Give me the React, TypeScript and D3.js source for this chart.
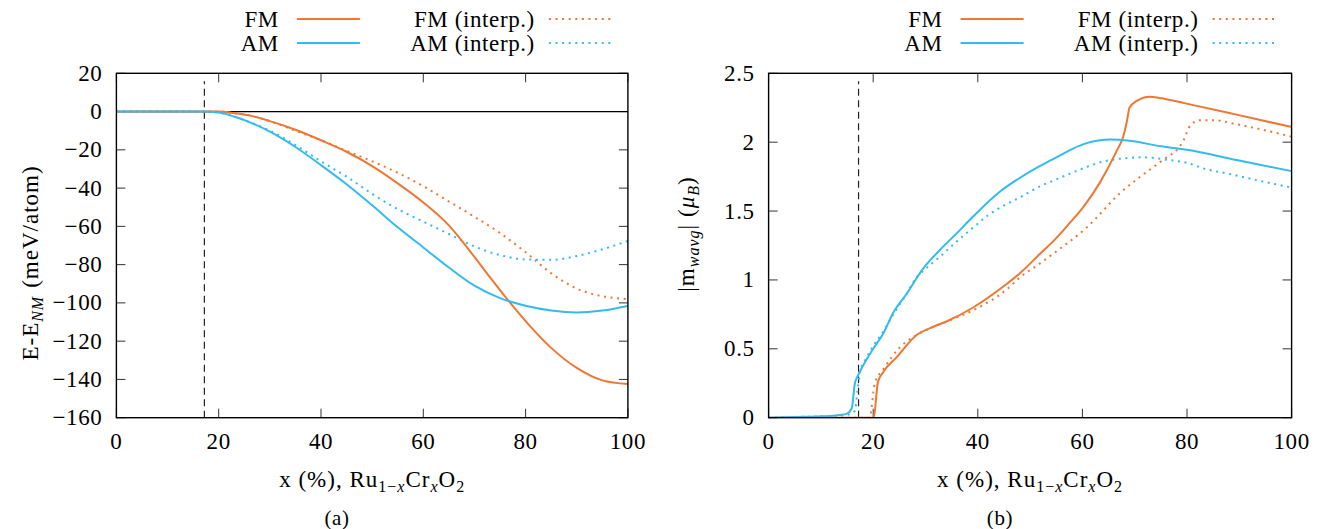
import React from "react";
import * as d3 from "d3";

const W = 1320;
const H = 529;
const ORANGE = "#ee7733";
const BLUE = "#33bbee";
const FONT = "Liberation Serif, DejaVu Serif, serif";
const FS = 23;
const SUB = 16;

// shared x axis (Cr content, %)
const xTicks = [0, 20, 40, 60, 80, 100];
const boundaryX = 17.2;

// (a) E - E_NM, meV/atom
const energyTicks = [20, 0, -20, -40, -60, -80, -100, -120, -140, -160];

const eFmX = [0, 5, 10, 15, 17, 20, 23, 26, 30, 35, 40, 45, 50, 55, 60, 65, 69, 73, 77, 81, 85, 90, 95, 100];
const eFmY = [0, 0, 0, 0, 0, 0, -0.8, -2, -5, -9.5, -15, -21, -28.5, -37.5, -47.5, -59.5, -72.5, -86.5, -100, -112.5, -123.5, -134, -140.5, -142.4];

const eAmX = [0, 5, 10, 15, 17, 20, 23, 26, 30, 35, 40, 45, 50, 55, 60, 65, 70, 75, 80, 85, 90, 95, 100];
const eAmY = [0, 0, 0, 0, 0, -0.5, -2.6, -5.5, -10.5, -18.5, -28, -38, -49, -60.5, -71, -81.5, -91, -97.5, -101.5, -104, -105, -104, -101.6];

const eFmIntX = [0, 5, 10, 15, 17, 20, 23, 26, 30, 35, 40, 45, 50, 55, 60, 65, 70, 75, 80, 85, 90, 95, 100];
const eFmIntY = [0, 0, 0, 0, 0, 0, -0.8, -2, -5, -10, -15, -20.5, -26, -32, -39, -47, -55, -63.5, -73.5, -84.5, -92.5, -96.5, -98];

const eAmIntX = [0, 5, 10, 15, 17, 20, 23, 26, 30, 35, 40, 45, 50, 55, 60, 65, 70, 75, 80, 85, 90, 95, 100];
const eAmIntY = [0, 0, 0, 0, 0, -0.5, -2.6, -5.5, -10, -17.5, -26, -34, -43, -51, -57.5, -64, -70.5, -75, -77.3, -77.5, -75.5, -72, -67.6];

// (b) |m_wavg|, mu_B
const momentTicks = [0, 0.5, 1, 1.5, 2, 2.5];
const momentLabels = ["0", "0.5", "1", "1.5", "2", "2.5"];

const mAmX = [0, 5, 10, 13.7, 15, 15.9, 16.5, 17, 18.1, 20, 21.9, 23.8, 26.4, 29.3, 32.8, 36, 39.1, 44.2, 48, 52, 55, 58, 61, 63, 65.3, 69.1, 75, 80, 89.5, 100];
const mAmY = [0, 0.005, 0.01, 0.02, 0.03, 0.07, 0.25, 0.3, 0.38, 0.5, 0.61, 0.76, 0.9, 1.07, 1.22, 1.34, 1.46, 1.64, 1.74, 1.83, 1.89, 1.95, 1.995, 2.012, 2.02, 2.01, 1.97, 1.945, 1.87, 1.79];

const mAmIntX = [0, 5, 10, 15, 16.5, 17, 17.5, 18.5, 20, 22, 24, 26.4, 28.3, 30, 32.8, 36, 39.1, 42, 45.5, 48.1, 51.9, 54.4, 57.5, 60.8, 64, 67.2, 71.6, 76.7, 80, 83.1, 88, 92.7, 100];
const mAmIntY = [0, 0.005, 0.01, 0.02, 0.05, 0.2, 0.33, 0.42, 0.52, 0.63, 0.76, 0.9, 1.02, 1.08, 1.17, 1.28, 1.38, 1.47, 1.55, 1.6, 1.68, 1.72, 1.77, 1.82, 1.86, 1.88, 1.89, 1.87, 1.85, 1.81, 1.77, 1.73, 1.67];

const mFmX = [0, 10, 20.1, 20.9, 21.9, 24.5, 28.3, 31.5, 34.1, 39.1, 45.5, 48.1, 51.9, 54.4, 57.5, 60.2, 63.4, 66.6, 67.8, 68.5, 69, 70.4, 72.9, 74.8, 79.9, 89.5, 100];
const mFmY = [0, 0, 0, 0.26, 0.33, 0.44, 0.6, 0.66, 0.7, 0.8, 0.97, 1.05, 1.19, 1.28, 1.41, 1.53, 1.71, 1.94, 2.04, 2.15, 2.25, 2.3, 2.33, 2.32, 2.28, 2.2, 2.11];

const mFmIntX = [0, 10, 19.3, 20.3, 21.9, 25.1, 28.3, 31.5, 34.1, 39.1, 45.5, 48.1, 51.9, 54.4, 60.8, 67.2, 73.6, 76.5, 78, 79.3, 80.6, 82.5, 85, 89.5, 100];
const mFmIntY = [0, 0, 0, 0.25, 0.35, 0.51, 0.6, 0.66, 0.7, 0.78, 0.93, 1.02, 1.12, 1.19, 1.38, 1.63, 1.82, 1.9, 1.94, 2.01, 2.12, 2.16, 2.16, 2.13, 2.04];

type Series = { xs: number[]; ys: number[]; color: string; dotted: boolean };

function Panel({
  left, right, top, bottom, yDomain, yTicks, yLabels, series, zeroLine, yTitle, yTitlePos, caption, captionX,
}: {
  left: number; right: number; top: number; bottom: number;
  yDomain: [number, number]; yTicks: number[]; yLabels: string[];
  series: Series[]; zeroLine: boolean;
  yTitle: React.ReactNode; yTitlePos: [number, number];
  caption: string; captionX: number;
}) {
  const x = d3.scaleLinear().domain([0, 100]).range([left, right]);
  const y = d3.scaleLinear().domain(yDomain).range([bottom, top]);
  const line = d3.line<[number, number]>()
    .x((d) => x(d[0]))
    .y((d) => y(d[1]))
    .curve(d3.curveMonotoneX);
  const tl = 9;

  // legend, right-aligned to the frame
  const legend = [
    { label: "FM", color: ORANGE, dotted: false, col: 0, row: 0 },
    { label: "AM", color: BLUE, dotted: false, col: 0, row: 1 },
    { label: "FM (interp.)", color: ORANGE, dotted: true, col: 1, row: 0 },
    { label: "AM (interp.)", color: BLUE, dotted: true, col: 1, row: 1 },
  ];
  const rowY = [19, 43];

  return (
    <g style={{ fontFamily: FONT, letterSpacing: "0.6px" }} fontSize={FS} fill="#000">
      <defs>
        <clipPath id={`clip-${caption}`}>
          <rect x={left} y={top} width={right - left} height={bottom - top} />
        </clipPath>
      </defs>

      {legend.map((it) => {
        const textRight = it.col === 0 ? right - 349 : right - 93;
        const x0 = it.col === 0 ? right - 331 : right - 79;
        const x1 = it.col === 0 ? right - 268 : right - 16;
        return (
          <g key={it.label}>
            <text x={textRight} y={rowY[it.row] + 7.5} textAnchor="end">{it.label}</text>
            <line x1={x0} x2={x1} y1={rowY[it.row]} y2={rowY[it.row]} stroke={it.color}
              strokeWidth={2} strokeDasharray={it.dotted ? "2 4.6" : undefined} />
          </g>
        );
      })}

      {/* ticks, mirrored on all sides */}
      {xTicks.map((t) => (
        <g key={`x${t}`} stroke="#333" strokeWidth={1}>
          <line x1={x(t)} x2={x(t)} y1={bottom} y2={bottom - tl} />
          <line x1={x(t)} x2={x(t)} y1={top} y2={top + tl} />
        </g>
      ))}
      {yTicks.map((t) => (
        <g key={`y${t}`} stroke="#333" strokeWidth={1}>
          <line x1={left} x2={left + tl} y1={y(t)} y2={y(t)} />
          <line x1={right} x2={right - tl} y1={y(t)} y2={y(t)} />
        </g>
      ))}
      {xTicks.map((t) => (
        <text key={`xl${t}`} x={x(t)} y={bottom + 31} textAnchor="middle">{t}</text>
      ))}
      {yTicks.map((t, i) => (
        <text key={`yl${t}`} x={left - 14} y={y(t) + 7.5} textAnchor="end">{yLabels[i]}</text>
      ))}

      {zeroLine && (
        <line x1={x(0)} x2={x(100)} y1={y(0)} y2={y(0)} stroke="#000" strokeWidth={1.2} />
      )}
      <line x1={x(boundaryX)} x2={x(boundaryX)} y1={bottom} y2={top + 8} stroke="#222"
        strokeWidth={1.2} strokeDasharray="7 4.5" />

      <g clipPath={`url(#clip-${caption})`} fill="none">
        {series.map((s, i) => (
          <path key={i} d={line(d3.zip(s.xs, s.ys) as [number, number][]) ?? undefined}
            stroke={s.color} strokeWidth={2}
            strokeDasharray={s.dotted ? "2 4.6" : undefined} />
        ))}
      </g>

      <rect x={left} y={top} width={right - left} height={bottom - top} fill="none" stroke="#000" strokeWidth={1.4} />

      <text transform={`translate(${yTitlePos[0]},${yTitlePos[1]}) rotate(-90)`} textAnchor="middle"
        style={{ letterSpacing: "1px" }}>{yTitle}</text>

      <text x={(left + right) / 2} y={bottom + 69} textAnchor="middle" style={{ letterSpacing: "1px" }}>
        x (%), Ru<tspan dy={5} fontSize={SUB}>1−</tspan><tspan fontSize={SUB} fontStyle="italic">x</tspan>
        <tspan dy={-5}>Cr</tspan><tspan dy={5} fontSize={SUB} fontStyle="italic">x</tspan>
        <tspan dy={-5}>O</tspan><tspan dy={5} fontSize={SUB}>2</tspan>
      </text>
      <text x={captionX} y={525} textAnchor="middle" fontSize={21}>({caption})</text>
    </g>
  );
}

export default function App() {
  const top = 73.3;
  const bottom = 417.7;
  return (
    <svg width={W} height={H} style={{ position: "absolute", left: 0, top: 0, background: "#fff" }}>
      <rect width={W} height={H} fill="#fff" />
      <Panel
        left={116.4} right={627.9} top={top} bottom={bottom}
        yDomain={[-160, 20]} yTicks={energyTicks}
        yLabels={energyTicks.map((t) => (t < 0 ? `−${-t}` : `${t}`))}
        zeroLine={true}
        series={[
          { xs: eFmIntX, ys: eFmIntY, color: ORANGE, dotted: true },
          { xs: eAmIntX, ys: eAmIntY, color: BLUE, dotted: true },
          { xs: eFmX, ys: eFmY, color: ORANGE, dotted: false },
          { xs: eAmX, ys: eAmY, color: BLUE, dotted: false },
        ]}
        yTitle={<>E-E<tspan dy={5} fontSize={SUB} fontStyle="italic">NM</tspan><tspan dy={-5} dx={8}>(meV/atom)</tspan></>}
        yTitlePos={[38, 263]}
        caption="a" captionX={337}
      />
      <Panel
        left={768.6} right={1291.6} top={top} bottom={bottom}
        yDomain={[0, 2.5]} yTicks={momentTicks} yLabels={momentLabels}
        zeroLine={false}
        series={[
          { xs: mFmIntX, ys: mFmIntY, color: ORANGE, dotted: true },
          { xs: mAmIntX, ys: mAmIntY, color: BLUE, dotted: true },
          { xs: mFmX, ys: mFmY, color: ORANGE, dotted: false },
          { xs: mAmX, ys: mAmY, color: BLUE, dotted: false },
        ]}
        yTitle={<>|m<tspan dy={5} fontSize={SUB} fontStyle="italic">wavg</tspan><tspan dy={-5}>|</tspan><tspan dx={7}>(</tspan><tspan fontStyle="italic">μ</tspan><tspan dy={5} fontSize={SUB} fontStyle="italic">B</tspan><tspan dy={-5}>)</tspan></>}
        yTitlePos={[694, 234]}
        caption="b" captionX={1000}
      />
    </svg>
  );
}
